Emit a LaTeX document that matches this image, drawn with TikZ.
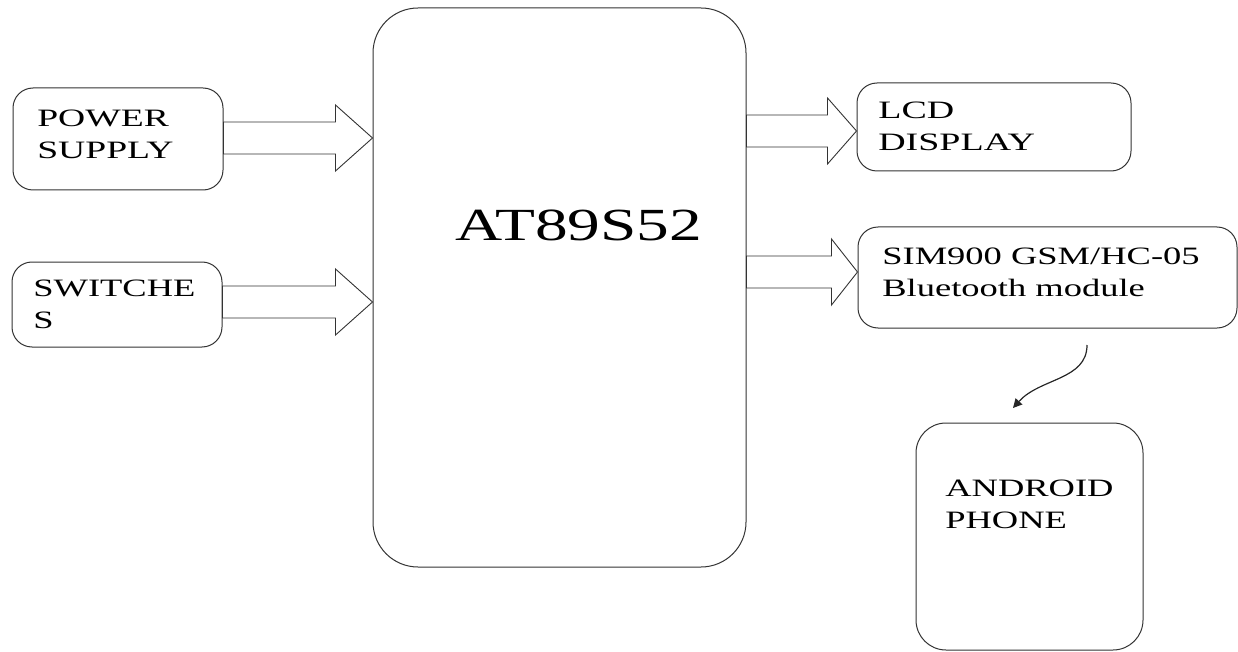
\documentclass[tikz,border=0pt]{standalone}
\usepackage{fontspec}
\setmainfont{Liberation Serif}
\usetikzlibrary{positioning, calc, arrows.meta}

\tikzset{
  box/.style={draw=black!80, line width=1pt, rounded corners=20pt},
  lbl/.style={anchor=north west, inner sep=0pt, align=left, xscale=1.46, font=\fontsize{25}{32}\selectfont},
  fat/.style={draw=black!80, line width=0.9pt},
}
% hollow block arrow: start point, target anchor, head length
\newcommand{\fatarrow}[3]{%
  \draw[fat] let \p1=(#1), \p2=(#2) in
    (\x1,\y1+16pt) -- (\x2-#3pt,\y1+16pt) -- (\x2-#3pt,\y1+33pt) -- (\x2,\y1)
    -- (\x2-#3pt,\y1-33pt) -- (\x2-#3pt,\y1-16pt) -- (\x1,\y1-16pt) -- cycle;}

\begin{document}
\begin{tikzpicture}[x=1pt, y=-1pt]
\useasboundingbox (0,0) rectangle (1238,652);

% blocks
\node[box, rounded corners=45pt, minimum width=373, minimum height=559] (mcu) at (559.5,287.5) {};
\node[box, minimum width=210, minimum height=102] (ps) at (118,139) {};
\node[box, minimum width=210, minimum height=85] (sw) at (117,304.5) {};
\node[box, minimum width=274, minimum height=88] (lcd) at (994,127) {};
\node[box, minimum width=379, minimum height=101] (sim) at (1047.5,277.5) {};
\node[box, rounded corners=30pt, minimum width=227, minimum height=227] (phone) at (1029.5,536.5) {};

% texts
\node[lbl, xscale=0.973, font=\fontsize{46}{50}\selectfont] (mcutext) at (455,210) {AT89S52};
\node[lbl, xscale=1.03] (pstext) at (37,110) {POWER\\SUPPLY};
\node[lbl] (swtext) at (33,280) {SWITCHE\\S};
\node[lbl, xscale=1.04] (lcdtext) at (878,102) {LCD\\DISPLAY};
\node[lbl] (simtext) at (882,248) {SIM900 GSM/HC-05\\Bluetooth module};
\node[lbl] (phonetext) at (945,480) {ANDROID\\PHONE};

% block arrows
\foreach \b/\dy in {ps/-1, sw/-2.5}
  \fatarrow{$(\b.east)+(0,\dy)$}{mcu.west}{37};
\foreach \b/\dy/\hl in {lcd/4/29, sim/-5.5/26}
  \fatarrow{$(mcu.east |- \b.west)+(0,\dy)$}{\b.west}{\hl};

% wireless link
\coordinate (linkstart) at (1087,345);
\coordinate (linkend) at (1013,408);
\draw[black!85, line width=1.2pt, -{Triangle[length=9pt,width=9pt]}] (linkstart) .. controls (1087,380) and (1040,378) .. (linkend);

\end{tikzpicture}
\end{document}
